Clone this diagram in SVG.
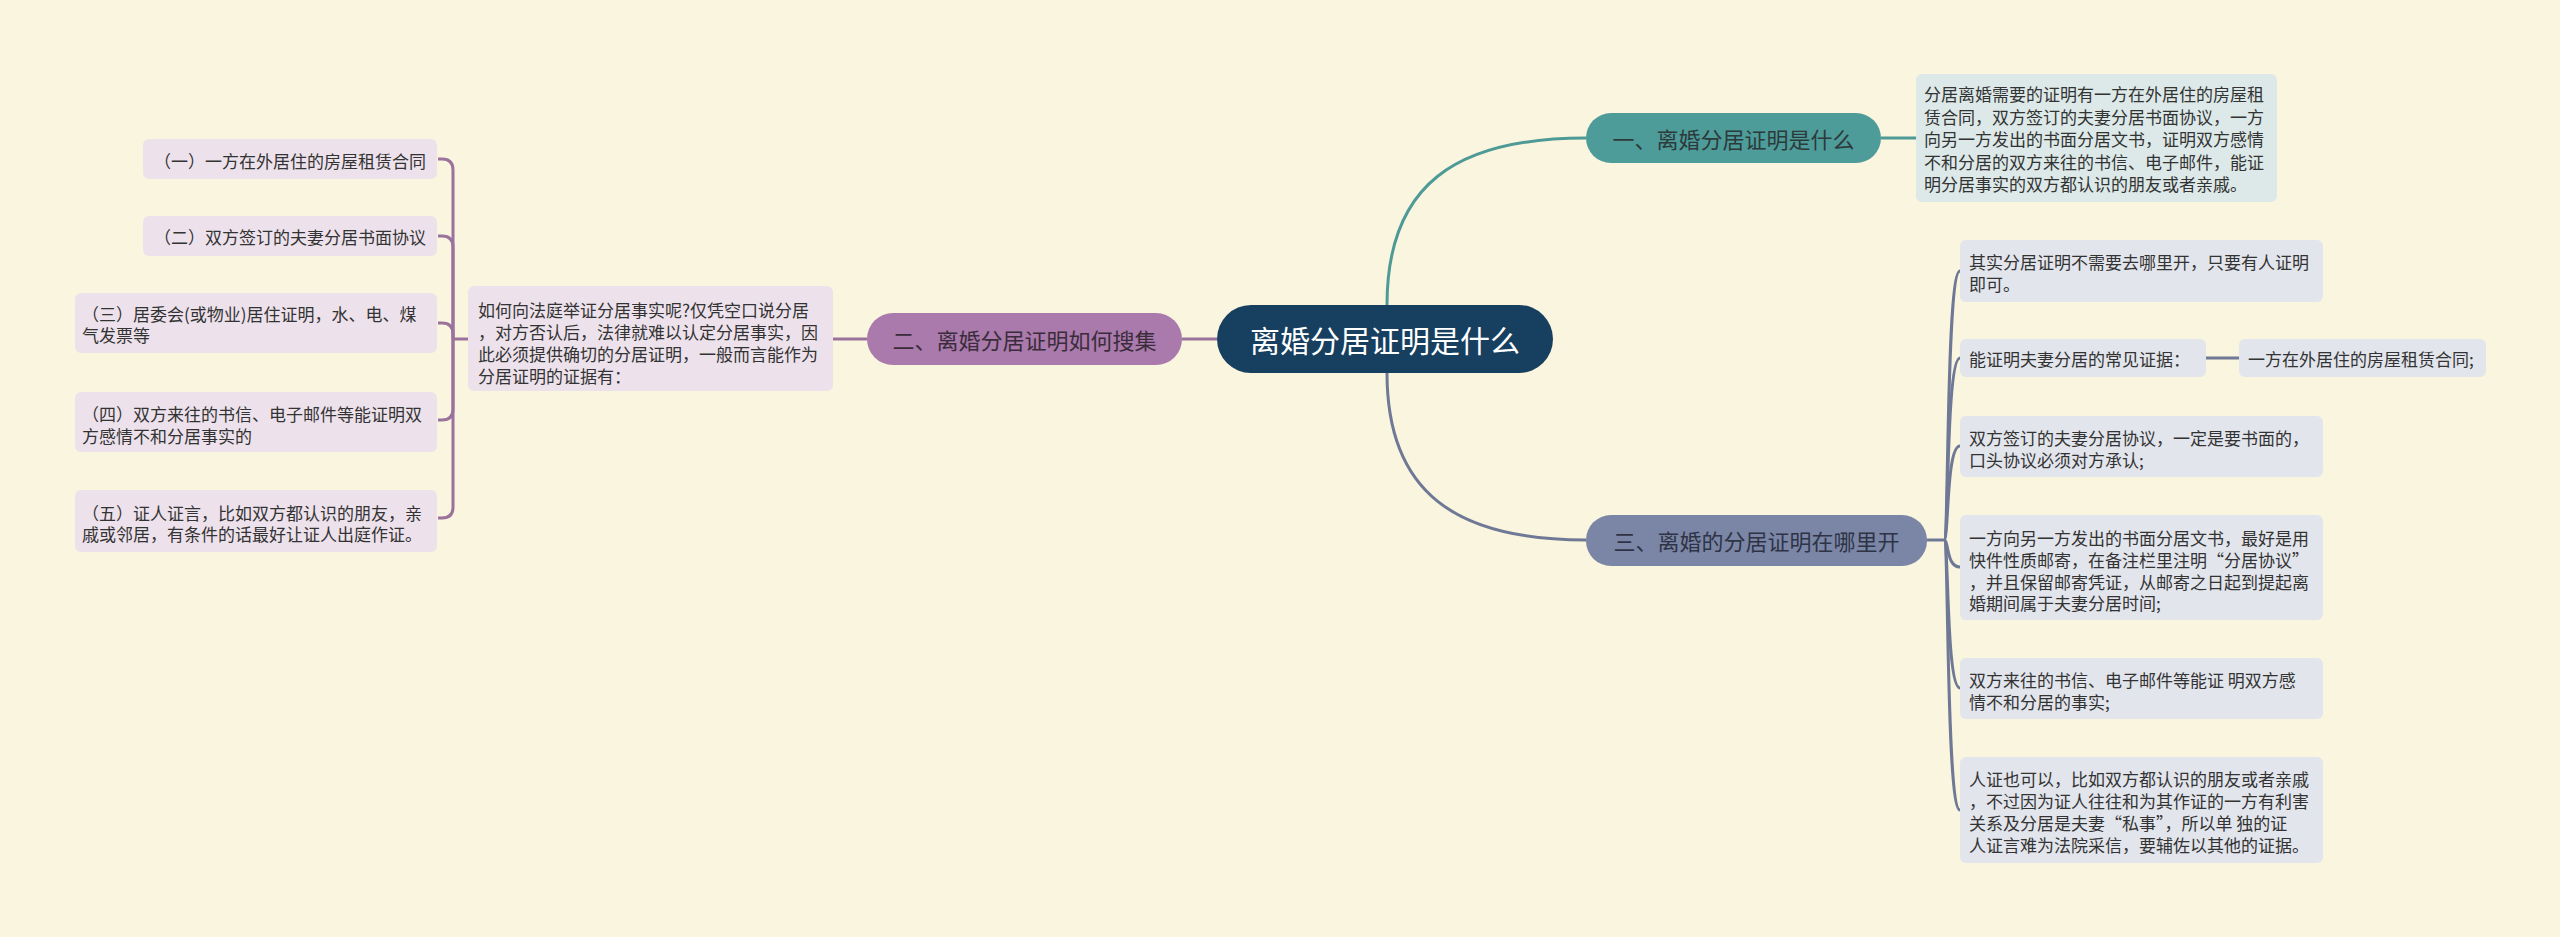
<svg xmlns="http://www.w3.org/2000/svg" width="2560" height="937" viewBox="0 0 2560 937">
<defs>
<style>
.bg{fill:#faf5df}
text{font-family:"Noto Sans CJK SC","Noto Sans",sans-serif;dominant-baseline:central}
.s{font-size:17px;fill:#333333}
.m{font-size:22px;text-anchor:middle}
.lp{fill:#ede2ec}
.rb{fill:#e2e5ec}
.c-p{fill:none;stroke:#9a729c;stroke-width:3}
.c-t{fill:none;stroke:#4e9a96;stroke-width:3}
.c-b{fill:none;stroke:#6f7996;stroke-width:3}
</style>
</defs>
<rect class="bg" x="0" y="0" width="2560" height="937"/>

<g id="connectors">
<path class="c-t" d="M1387,305 C1387,185 1455,138 1586,138"/>
<path class="c-t" d="M1881,138 L1916,138"/>
<path class="c-b" d="M1387,373 C1387,492 1455,540 1586,540"/>
<path class="c-b" d="M1927,540 L1944,540"/>
<path class="c-b" d="M1944,540 C1949,540 1946,271 1960,271"/>
<path class="c-b" d="M1944,540 C1949,540 1946,358 1960,358"/>
<path class="c-b" d="M1944,540 C1949,540 1946,446 1960,446"/>
<path class="c-b" d="M1944,540 C1949,540 1946,567 1960,567"/>
<path class="c-b" d="M1944,540 C1949,540 1946,688 1960,688"/>
<path class="c-b" d="M1944,540 C1949,540 1946,810 1960,810"/>
<path class="c-b" d="M2206,358 L2239,358"/>
<path class="c-p" d="M1182,339 L1217,339"/>
<path class="c-p" d="M833,339 L867,339"/>
<path class="c-p" d="M468,339 L453,339"/>
<path class="c-p" d="M453,339 L453,170 Q453,159 442,159 L438,159"/>
<path class="c-p" d="M453,339 L453,247 Q453,236 442,236 L438,236"/>
<path class="c-p" d="M453,339 L453,334 Q453,323 442,323 L438,323"/>
<path class="c-p" d="M453,339 L453,409 Q453,420 442,420 L438,420"/>
<path class="c-p" d="M453,339 L453,507 Q453,518 442,518 L438,518"/>
</g>

<g id="root">
<rect x="1217" y="305" width="336" height="68" rx="34" fill="#173f5f"/>
<text x="1385" y="339" style="font-size:30px;fill:#ffffff;text-anchor:middle">离婚分居证明是什么</text>
</g>

<g id="branch1">
<rect x="1586" y="113" width="295" height="50" rx="25" fill="#4e9c9a"/>
<text class="m" x="1733.5" y="138" fill="#2c3a3a">一、离婚分居证明是什么</text>
</g>
<g id="branch1-desc">
<rect x="1916" y="74" width="361" height="128" rx="6" fill="#dce9e8"/>
<text class="s" x="1924" y="93.5">分居离婚需要的证明有一方在外居住的房屋租</text>
<text class="s" x="1924" y="116">赁合同，双方签订的夫妻分居书面协议，一方</text>
<text class="s" x="1924" y="138.5">向另一方发出的书面分居文书，证明双方感情</text>
<text class="s" x="1924" y="161">不和分居的双方来往的书信、电子邮件，能证</text>
<text class="s" x="1924" y="183.5">明分居事实的双方都认识的朋友或者亲戚。</text>
</g>

<g id="branch2">
<rect x="867" y="313" width="315" height="52" rx="26" fill="#a97aab"/>
<text class="m" x="1024.5" y="339" fill="#3a2c3b">二、离婚分居证明如何搜集</text>
</g>
<g id="branch2-desc">
<rect x="468" y="286" width="365" height="105" rx="6" fill="#ede2ec"/>
<text class="s" x="478" y="309">如何向法庭举证分居事实呢?仅凭空口说分居</text>
<text class="s" x="478" y="331">，对方否认后，法律就难以认定分居事实，因</text>
<text class="s" x="478" y="353">此必须提供确切的分居证明，一般而言能作为</text>
<text class="s" x="478" y="375">分居证明的证据有：</text>
</g>
<g id="left1">
<rect class="lp" x="143" y="139" width="294" height="40" rx="6"/>
<text class="s" x="154" y="160">（一）一方在外居住的房屋租赁合同</text>
</g>
<g id="left2">
<rect class="lp" x="143" y="216" width="294" height="40" rx="6"/>
<text class="s" x="154" y="236">（二）双方签订的夫妻分居书面协议</text>
</g>
<g id="left3">
<rect class="lp" x="75" y="293" width="362" height="60" rx="6"/>
<text class="s" x="82" y="313">（三）居委会(或物业)居住证明，水、电、煤</text>
<text class="s" x="82" y="334">气发票等</text>
</g>
<g id="left4">
<rect class="lp" x="75" y="392" width="362" height="60" rx="6"/>
<text class="s" x="82" y="413">（四）双方来往的书信、电子邮件等能证明双</text>
<text class="s" x="82" y="435">方感情不和分居事实的</text>
</g>
<g id="left5">
<rect class="lp" x="75" y="490" width="362" height="62" rx="6"/>
<text class="s" x="82" y="512">（五）证人证言，比如双方都认识的朋友，亲</text>
<text class="s" x="82" y="533">戚或邻居，有条件的话最好让证人出庭作证。</text>
</g>

<g id="branch3">
<rect x="1586" y="515" width="341" height="51" rx="25" fill="#7b86a6"/>
<text class="m" x="1756.5" y="540" fill="#2e3446">三、离婚的分居证明在哪里开</text>
</g>
<g id="right1">
<rect class="rb" x="1960" y="240" width="363" height="62" rx="6"/>
<text class="s" x="1969" y="261">其实分居证明不需要去哪里开，只要有人证明</text>
<text class="s" x="1969" y="283">即可。</text>
</g>
<g id="right2">
<rect class="rb" x="1960" y="339" width="246" height="38" rx="6"/>
<text class="s" x="1969" y="358">能证明夫妻分居的常见证据：</text>
</g>
<g id="right2a">
<rect class="rb" x="2239" y="339" width="247" height="38" rx="6"/>
<text class="s" x="2248" y="358">一方在外居住的房屋租赁合同;</text>
</g>
<g id="right3">
<rect class="rb" x="1960" y="416" width="363" height="61" rx="6"/>
<text class="s" x="1969" y="437">双方签订的夫妻分居协议，一定是要书面的，</text>
<text class="s" x="1969" y="459">口头协议必须对方承认;</text>
</g>
<g id="right4">
<rect class="rb" x="1960" y="515" width="363" height="105" rx="6"/>
<text class="s" x="1969" y="537">一方向另一方发出的书面分居文书，最好是用</text>
<text class="s" x="1969" y="559">快件性质邮寄，在备注栏里注明“分居协议”</text>
<text class="s" x="1969" y="581">，并且保留邮寄凭证，从邮寄之日起到提起离</text>
<text class="s" x="1969" y="602">婚期间属于夫妻分居时间;</text>
</g>
<g id="right5">
<rect class="rb" x="1960" y="658" width="363" height="61" rx="6"/>
<text class="s" x="1969" y="679">双方来往的书信、电子邮件等能证 明双方感</text>
<text class="s" x="1969" y="701">情不和分居的事实;</text>
</g>
<g id="right6">
<rect class="rb" x="1960" y="757" width="363" height="106" rx="6"/>
<text class="s" x="1969" y="778">人证也可以，比如双方都认识的朋友或者亲戚</text>
<text class="s" x="1969" y="800">，不过因为证人往往和为其作证的一方有利害</text>
<text class="s" x="1969" y="822">关系及分居是夫妻“私事”，所以单 独的证</text>
<text class="s" x="1969" y="844">人证言难为法院采信，要辅佐以其他的证据。</text>
</g>
</svg>
